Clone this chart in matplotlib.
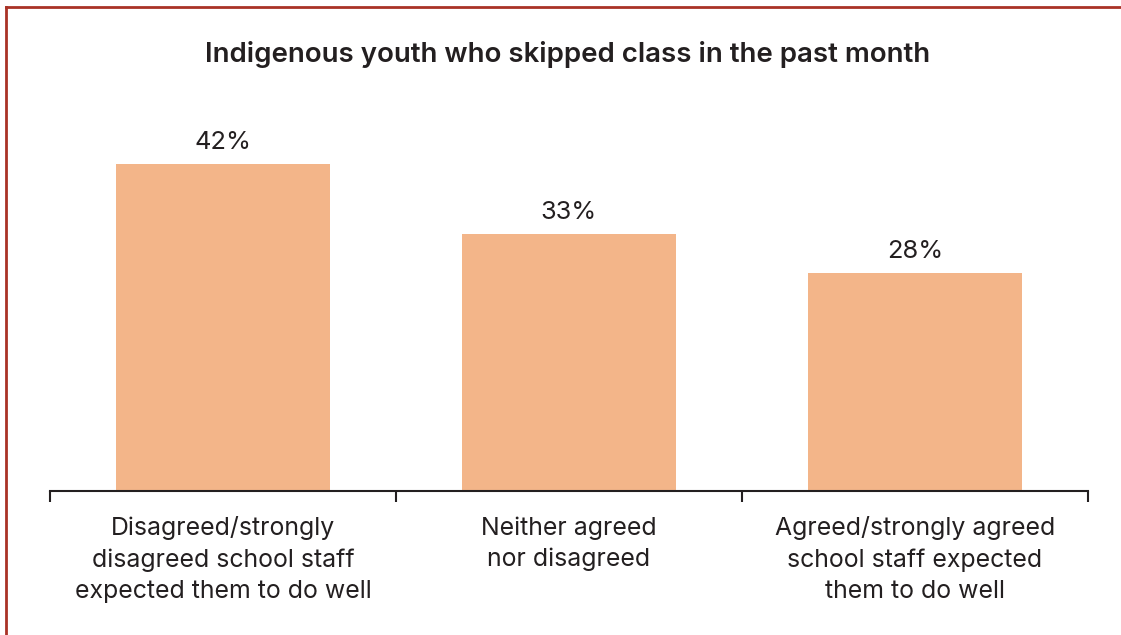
import matplotlib.pyplot as plt
from matplotlib.lines import Line2D

plt.rcParams['font.family'] = ['Inter', 'DejaVu Sans']

categories = [
    "Disagreed/strongly\ndisagreed school staff\nexpected them to do well",
    "Neither agreed\nnor disagreed",
    "Agreed/strongly agreed\nschool staff expected\nthem to do well",
]
values = [42, 33, 28]
title = "Indigenous youth who skipped class in the past month"

bar_color = "#F3B589"
text_color = "#231F20"

fig = plt.figure(figsize=(11.21, 6.35), dpi=100)
ax = fig.add_axes([50 / 1121, 1 - 491 / 635, 1038 / 1121, 389.3 / 635])

x = range(len(values))
ax.bar(x, values, width=0.62, color=bar_color)
for xi, v in zip(x, values):
    ax.text(xi, v + 1.3, f"{v}%", ha="center", va="bottom", fontsize=18.3, color=text_color)

ax.set_xlim(-0.5, 2.5)
ax.set_ylim(0, 50)
ax.set_yticks([])
for side in ["top", "right", "left"]:
    ax.spines[side].set_visible(False)
ax.spines["bottom"].set_color(text_color)
ax.spines["bottom"].set_linewidth(1.5)

# category separators drawn as ticks on the bottom axis
ax.set_xticks([-0.5, 0.5, 1.5, 2.5])
ax.set_xticklabels([])
ax.tick_params(axis="x", length=8, width=1.5, color=text_color, direction="out")
ax.set_xticks(list(x), minor=True)
ax.set_xticklabels(categories, minor=True, fontsize=17.9, color=text_color, linespacing=1.45)
ax.tick_params(axis="x", which="minor", length=0, pad=18)

fig.text(568 / 1121, 1 - 54 / 635, title, ha="center", va="center", fontsize=19.9,
         fontweight="semibold", color=text_color)

# frame lines along the top and left edges
border = "#A93226"
fig.add_artist(Line2D([6 / 1121, 1], [1 - 7 / 635, 1 - 7 / 635], color=border, lw=2))
fig.add_artist(Line2D([6 / 1121, 6 / 1121], [0, 1 - 7 / 635], color=border, lw=2))

fig.savefig("out.png", dpi=100)
